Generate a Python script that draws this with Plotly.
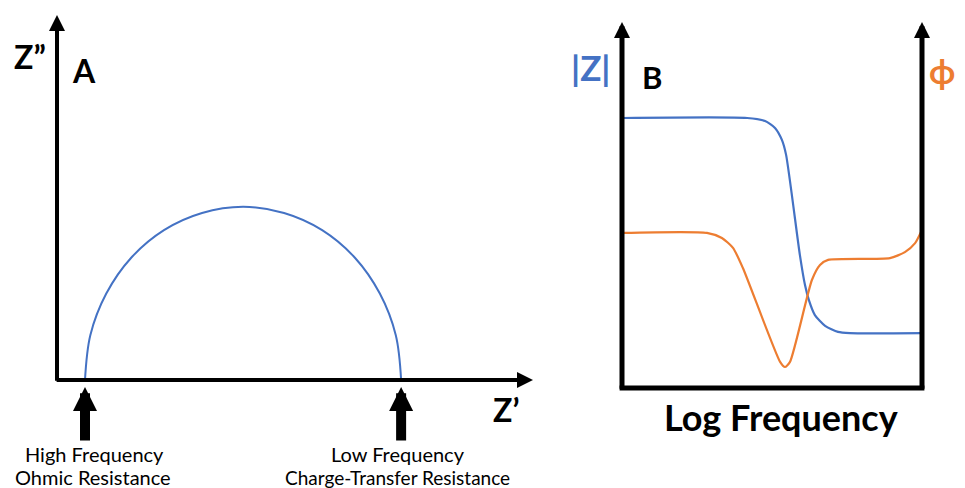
import plotly.graph_objects as go

W, H = 965, 488

# ---- Panel A: Nyquist plot (arbitrary units) ----
z_real = [10, 11.9, 17.6, 26.5, 38.2, 51.8, 66.5, 81.1, 94.7, 106.4, 115.3, 121.0, 122.9]
z_imag = [0, 14.6, 28.2, 39.9, 48.9, 54.5, 56.5, 54.5, 48.9, 39.9, 28.2, 14.6, 0]
r_ohmic = 10
r_total = 122.9

# ---- Panel B: Bode plot (arbitrary units) ----
logf_mag = [0, 41.7, 47.7, 51, 53.3, 54.7, 59.3, 61, 62.3, 64.3, 67.7, 72, 76, 100]
mag = [90, 90, 89, 86.7, 82.7, 77.7, 44.3, 34.3, 29.3, 24.3, 20.7, 18.7, 18.3, 18.3]
logf_phase = [0, 28.3, 33.3, 37, 40.3, 52.7, 54.3, 56, 63.3, 66, 68.7, 89.3, 94.3, 97.7, 100]
phase = [51.7, 51.7, 50, 46.7, 40, 8.7, 7, 8.7, 36, 41, 42.7, 43.3, 45.3, 48.3, 52.7]

BLUE = "#4472C4"
ORANGE = "#ED7D31"
FONT = "Lato"


def px(x):
    return x / W


def py(y):
    return 1 - y / H


fig = go.Figure()
fig.add_trace(go.Scatter(x=z_real, y=z_imag, mode="lines", line=dict(color=BLUE, width=2, shape="spline"),
                         xaxis="x", yaxis="y", hoverinfo="skip"))
fig.add_trace(go.Scatter(x=logf_mag, y=mag, mode="lines", line=dict(color=BLUE, width=2.2, shape="spline", smoothing=0.6),
                         xaxis="x2", yaxis="y2", hoverinfo="skip"))
fig.add_trace(go.Scatter(x=logf_phase, y=phase, mode="lines", line=dict(color=ORANGE, width=2.2, shape="spline", smoothing=0.6),
                         xaxis="x2", yaxis="y3", hoverinfo="skip"))

hidden = dict(visible=False, fixedrange=True)
fig.update_layout(
    width=W, height=H, margin=dict(l=0, r=0, t=0, b=0),
    paper_bgcolor="white", plot_bgcolor="rgba(0,0,0,0)", showlegend=False,
    xaxis=dict(domain=[px(57), px(533)], range=[0, 170], **hidden),
    yaxis=dict(domain=[py(380), py(15)], range=[0, 119.1], **hidden),
    xaxis2=dict(domain=[px(622), px(922)], range=[0, 100], anchor="y2", **hidden),
    yaxis2=dict(domain=[py(388), py(22)], range=[0, 122], anchor="x2", **hidden),
    yaxis3=dict(domain=[py(388), py(22)], range=[0, 122], anchor="x2", overlaying="y2", **hidden),
    font=dict(family=FONT, color="black"),
)

ann = []


def axis_arrow(xref, yref, x, y, ax, ay, width):
    ann.append(dict(xref=xref, yref=yref, axref=xref, ayref=yref, x=x, y=y, ax=ax, ay=ay,
                    showarrow=True, arrowhead=2, arrowsize=3.2 / width, arrowwidth=width,
                    arrowcolor="black", text=""))


# Panel A axes
axis_arrow("x domain", "y domain", 0, 1, 0, -0.006, 4)
axis_arrow("x domain", "y domain", 1, 0, -0.004, 0, 4)
# Panel B axes
axis_arrow("x2 domain", "y2 domain", 0, 1, 0, -0.006, 5)
axis_arrow("x2 domain", "y2 domain", 1, 1, 1, -0.006, 5)

# Bottom markers
for xv in (r_ohmic, r_total):
    ann.append(dict(xref="x", yref="paper", x=xv, y=py(387), axref="pixel", ayref="pixel", ax=0, ay=55,
                    showarrow=True, arrowhead=2, arrowsize=0.48, arrowwidth=10, arrowcolor="black", text=""))


def label(x, y, text, size, color="black", bold=False):
    t = f"<b>{text}</b>" if bold else text
    ann.append(dict(xref="paper", yref="paper", x=px(x), y=py(y), text=t, showarrow=False,
                    xanchor="center", yanchor="middle", font=dict(family=FONT, size=size, color=color)))


label(30, 56, "Z”", 32, bold=True)
label(84, 70, "A", 32, bold=True)
label(506, 409, "Z’", 32, bold=True)
label(94, 454, "High Frequency", 20)
label(93, 477, "Ohmic Resistance", 20)
label(398, 454, "Low Frequency", 20)
label(397, 477, "Charge-Transfer Resistance", 19)
label(590, 67, "|Z|", 35, color=BLUE, bold=True)
label(652, 77, "B", 31, bold=True)
label(942, 70, "ϕ", 34, color=ORANGE, bold=True)
label(781, 417, "Log Frequency", 36, bold=True)

fig.update_layout(annotations=ann)
fig.add_shape(type="line", xref="x2 domain", yref="y2 domain", x0=-0.008, x1=1.008, y0=0, y1=0,
              line=dict(color="black", width=5))

fig.write_html("out.html", config={"displayModeBar": False},
               post_script="document.body.style.margin='0';")
